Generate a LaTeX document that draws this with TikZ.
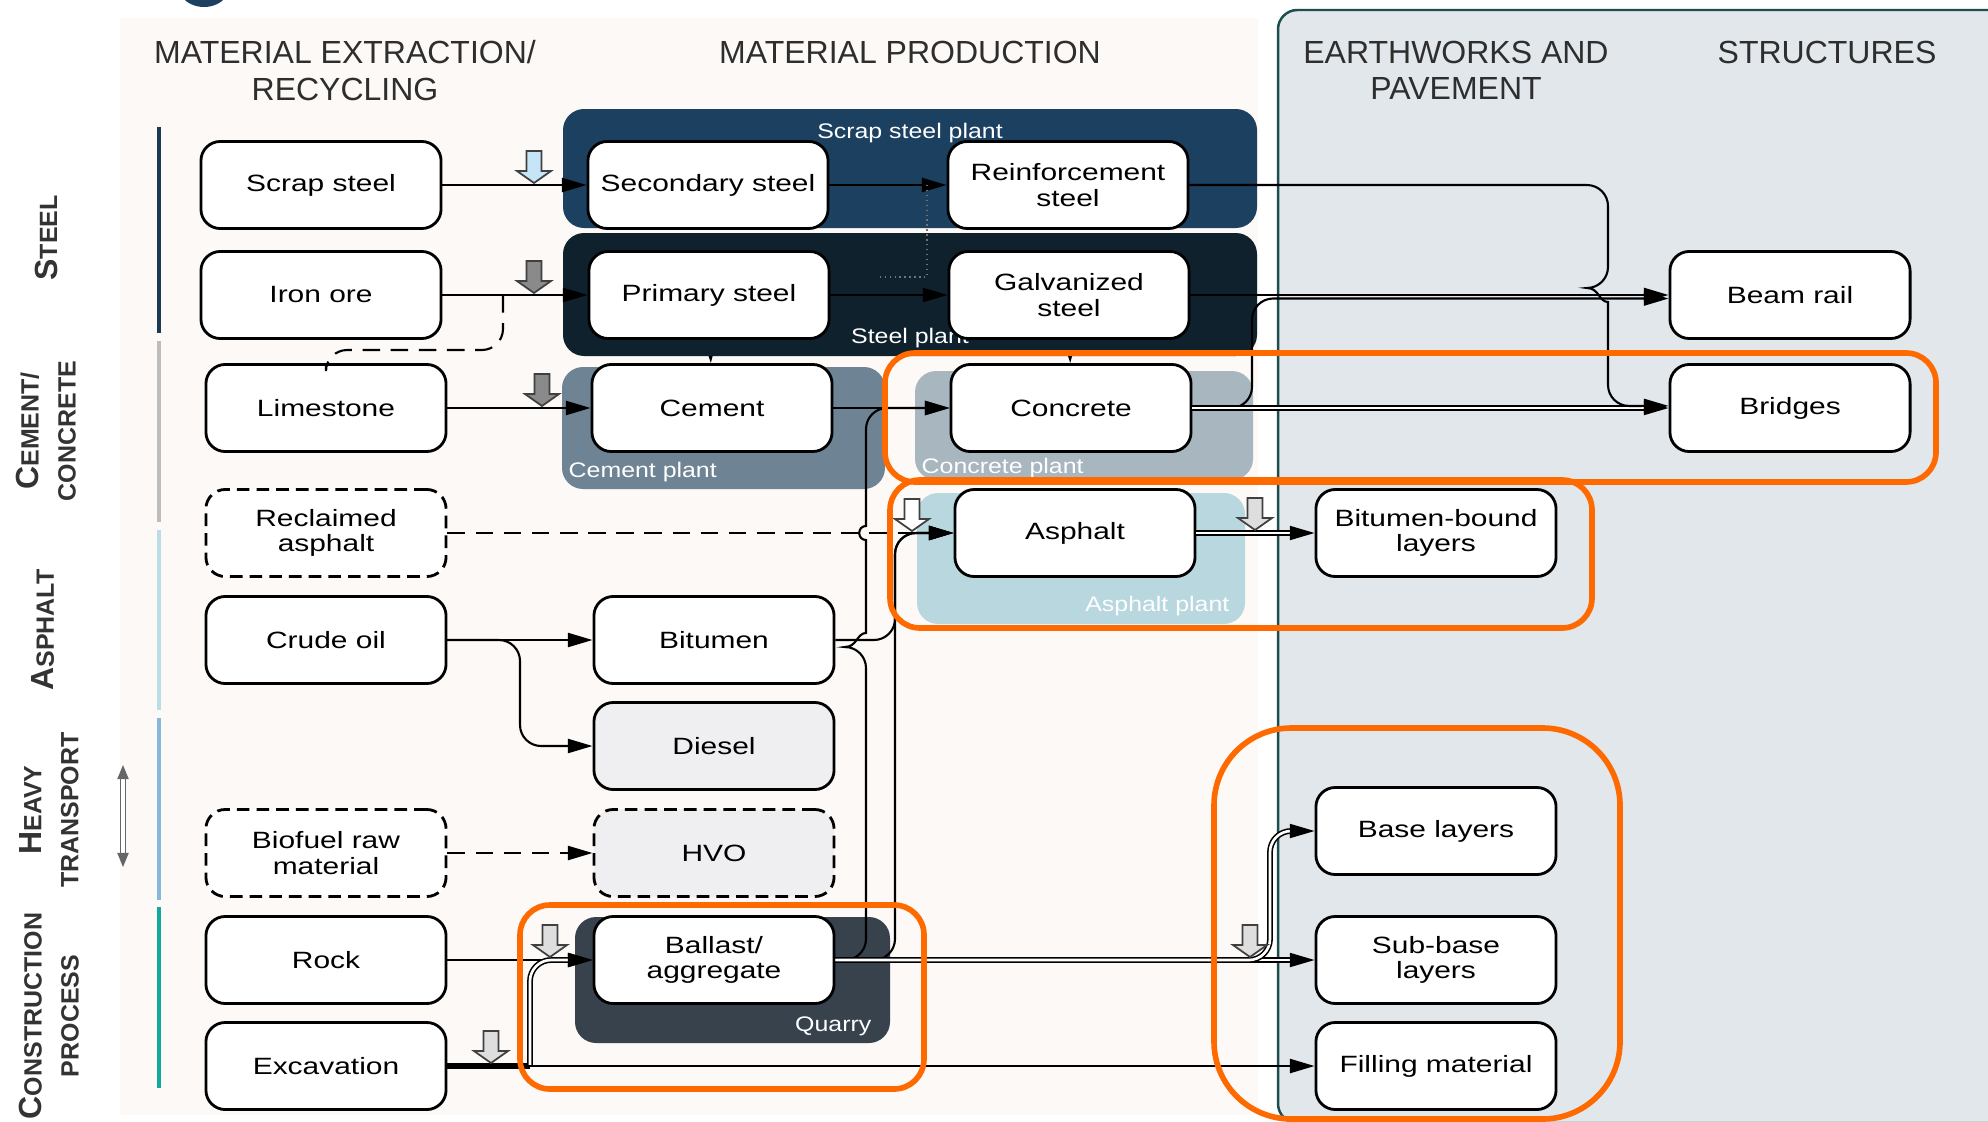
\documentclass[tikz,border=0pt]{standalone}
\usepackage{fontspec}
\setmainfont{Liberation Sans}
\newfontfamily\boxfont[FakeStretch=1.27]{Liberation Sans}
\newfontfamily\plantfont[FakeStretch=1.18]{Liberation Sans}
\usetikzlibrary{arrows.meta,calc,backgrounds}

\definecolor{beige}{HTML}{FCF9F6}
\definecolor{panelR}{HTML}{E1E7EA}
\definecolor{panelLine}{HTML}{1D4D4D}
\definecolor{scrapPl}{HTML}{1B4060}
\definecolor{steelPl}{HTML}{0F212D}
\definecolor{cementPl}{HTML}{6E8494}
\definecolor{concPl}{HTML}{A8B6C0}
\definecolor{asphPl}{HTML}{B9D7DF}
\definecolor{quarryPl}{HTML}{37424C}
\definecolor{fuelFill}{HTML}{EFEEF0}
\definecolor{hiOrange}{HTML}{FF6A00}
\definecolor{steelBar}{HTML}{1A3A52}
\definecolor{cemBar}{HTML}{BDBDBD}
\definecolor{asphBar}{HTML}{BCDDE5}
\definecolor{transBar}{HTML}{86B8DE}
\definecolor{consBar}{HTML}{14A89B}
\definecolor{inBlue}{HTML}{C6E6F7}
\definecolor{inGray}{HTML}{8A8A8A}
\definecolor{inLight}{HTML}{DEDEDE}

% larger first letter of the lane titles
\newcommand{\lanecap}[1]{{\fontsize{9.1pt}{10.5pt}\selectfont #1}}
% hollow input arrow, tip at #1
\newcommand{\dnarrow}[2]{%
  \filldraw[fill=#2, draw=black!75, line width=0.5pt] #1 ++(-7.5,-32) -- ++(15,0)
    -- ++(0,20) -- ++(9.5,0) -- ++(-17,12) -- ++(-17,-12) -- ++(9.5,0) -- cycle;}

\begin{document}
\begin{tikzpicture}[x=0.01cm, y=-0.01cm,
    font=\boxfont\fontsize{6.7pt}{7.2pt}\selectfont,
    >={Triangle[length=7pt, width=4pt]},
    blk/.style={draw, line width=0.8pt, rounded corners=5.5pt, fill=white, align=center,
                minimum width=2.4cm, minimum height=0.87cm, inner sep=1pt},
    opt/.style={blk, dash pattern=on 3.6pt off 2pt},
    fuel/.style={blk, fill=fuelFill},
    sig/.style={->, line width=0.6pt},
    dbl/.style={->, line width=0.45pt, double, double distance=0.75pt},
    brk/.style={line width=0.6pt, dash pattern=on 5pt off 3pt},
    plant/.style={rounded corners=6pt},
    plantlab/.style={font=\plantfont\fontsize{6pt}{7pt}\selectfont, text=white, inner sep=0pt},
    head/.style={font=\normalfont\fontsize{9.1pt}{10.5pt}\selectfont, text=black!82,
                 align=center, inner sep=0pt},
    lane/.style={font=\normalfont\bfseries\fontsize{7.1pt}{10.5pt}\selectfont, text=black!80,
                 align=center, rotate=90, inner sep=0pt},
    lanebar/.style={line width=1.4pt},
    hilite/.style={draw=hiOrange, line width=1.6pt, rounded corners=8.5pt},
  ]
  \useasboundingbox (0,0) rectangle (1988,1121);

  % ============ Column headings and lanes ============
  \node[head, anchor=north] (hExtr) at (345,40) {MATERIAL EXTRACTION/\\RECYCLING};
  \node[head, anchor=north] (hProd) at (910,40) {MATERIAL PRODUCTION};
  \node[head, anchor=north] (hEarth) at (1456,40) {EARTHWORKS AND\\PAVEMENT};
  \node[head, anchor=north] (hStruct) at (1827,40) {STRUCTURES};

  \node[lane] (lSteel) at (46,238) {\lanecap{S}TEEL};
  \node[lane] (lCem) at (46,431) {\lanecap{C}EMENT/\\CONCRETE};
  \node[lane] (lAsph) at (43,630) {\lanecap{A}SPHALT};
  \node[lane] (lTrans) at (49,810) {\lanecap{H}EAVY\\TRANSPORT};
  \node[lane] (lCons) at (49,1016) {\lanecap{C}ONSTRUCTION\\PROCESS};

  \draw[lanebar, steelBar] (159,127) -- (159,333);
  \draw[lanebar, cemBar] (159,341) -- (159,522);
  \draw[lanebar, asphBar] (159,530) -- (159,710);
  \draw[lanebar, transBar] (159,718) -- (159,900);
  \draw[lanebar, consBar] (159,907) -- (159,1088);
  \draw[black!60, line width=0.35pt, double, double distance=0.9pt,
        {Triangle[length=4pt, width=3.2pt]}-{Triangle[length=4pt, width=3.2pt]}] (123,765) -- (123,867);

  % ============ Raw materials ============
  \node[blk] (scrap) at (321,185) {Scrap steel};
  \node[blk] (iron)  at (321,295) {Iron ore};
  \node[blk] (lime)  at (326,408) {Limestone};
  \node[opt] (recl)  at (326,533) {Reclaimed\\asphalt};
  \node[blk] (crude) at (326,640) {Crude oil};
  \node[opt] (bio)   at (326,853) {Biofuel raw\\material};
  \node[blk] (rock)  at (326,960) {Rock};
  \node[blk] (excav) at (326,1066) {Excavation};

  % ============ Products ============
  \node[blk] (sec)    at (708,185) {Secondary steel};
  \node[blk] (prim)   at (709,295) {Primary steel};
  \node[blk] (cem)    at (712,408) {Cement};
  \node[blk] (bitu)   at (714,640) {Bitumen};
  \node[fuel] (diesel) at (714,746) {Diesel};
  \node[fuel, dash pattern=on 3.6pt off 2pt] (hvo) at (714,853) {HVO};
  \node[blk] (ball)   at (714,960) {Ballast/\\aggregate};

  \node[blk] (reinf) at (1068,185) {Reinforcement\\steel};
  \node[blk] (galv)  at (1069,295) {Galvanized\\steel};
  \node[blk] (conc)  at (1071,408) {Concrete};
  \node[blk] (asph)  at (1075,533) {Asphalt};

  % ============ Earthworks, pavement, structures ============
  \node[blk] (bbl)     at (1436,533) {Bitumen-bound\\layers};
  \node[blk] (base)    at (1436,831) {Base layers};
  \node[blk] (sub)     at (1436,960) {Sub-base\\layers};
  \node[blk] (filling) at (1436,1066) {Filling material};
  \node[blk] (beam)    at (1790,295) {Beam rail};
  \node[blk] (bridge)  at (1790,408) {Bridges};

  % ============ Panels and plants (behind) ============
  \begin{scope}[on background layer]
    \fill[beige] (120,18) rectangle (1258,1115);
    \draw[fill=panelR, draw=panelLine, line width=0.7pt, rounded corners=5.5pt]
      (1278,10) rectangle (2020,1123);
    \fill[scrapPl] (204,-23) circle[radius=0.3cm];
    % these two only show in the gaps between the plants
    \draw[sig] (prim) -- (cem);
    \draw[sig] (galv) -- (conc);
    \fill[scrapPl, plant]  (563,109) rectangle (1257,228);
    \fill[steelPl, plant]  (563,233) rectangle (1257,356);
    \fill[cementPl, plant] (562,367) rectangle (885,489);
    \fill[concPl, plant]   (915,371) rectangle (1253,480);
    \fill[asphPl, plant]   (917,493) rectangle (1245,624);
    \fill[quarryPl, plant] (575,917) rectangle (890,1043);
    \node[plantlab, anchor=base] (pScrap) at (910,138) {Scrap steel plant};
    \node[plantlab, anchor=base] (pSteel) at (910,343) {Steel plant};
    \node[plantlab, anchor=base west] (pCem) at (568,477) {Cement plant};
    \node[plantlab, anchor=base west] (pConc) at (921,473) {Concrete plant};
    \node[plantlab, anchor=base east] (pAsph) at (1230,611) {Asphalt plant};
    \node[plantlab, anchor=base east] (pQuarry) at (872,1031) {Quarry};
  \end{scope}

  % ============ Steel and cement flows ============
  \draw[sig] (scrap) -- (sec);
  \draw[sig] (iron) -- (prim);
  \coordinate (ironjn) at (503,295);
  \draw[brk, rounded corners=6pt] (ironjn) -- (503,350) -| (lime.north);
  \draw[sig] (lime) -- (cem);
  \draw[sig] (sec) -- (reinf);
  \draw[sig] (prim) -- (galv);
  \coordinate (dotA) at (927,185);
  \coordinate (dotB) at (880,277);
  \draw[densely dotted, black!55, line width=0.4pt] (dotA) |- (dotB);
  \draw[sig] (cem) -- (conc);
  \draw[sig] (galv) -- (beam);
  \draw[sig, rounded corners=6pt] (conc.east) -- (1252,408) |- ([yshift=-1pt]beam.west);
  \draw[dbl] (conc) -- (bridge);
  \draw[sig, rounded corners=6pt] (reinf.east) -- (1608,185) -- (1608,288) [sharp corners]
        .. controls (1599,288) and (1599,302) .. (1608,302) [rounded corners=6pt]
        -- (1608,406) -- ([yshift=0.6pt]bridge.west);

  % ============ Asphalt and fuels ============
  \draw[brk, ->] (recl) -- (asph);
  \draw[sig] (crude) -- (bitu);
  \draw[sig, rounded corners=6pt] (crude.east) -- (520,640) |- (diesel.west);
  \draw[brk, ->] (bio) -- (hvo);
  \draw[sig, rounded corners=6pt] (bitu.east) -- (895,640) -- (895,533) -- (asph.west);
  \draw[dbl] (asph) -- (bbl);

  % ============ Aggregates ============
  \draw[sig] (rock) -- (ball);
  \coordinate (excjn) at (530,1066);
  \draw[line width=1.6pt] (excav.east) -- (excjn);
  \draw[dbl, rounded corners=6pt] (excjn) -- (530,960) -- (ball.west);
  \draw[sig] (excav) -- (filling);
  \draw[sig, rounded corners=6pt] (ball.east) -- (866,960) -- (866,647) [sharp corners]
        .. controls (857,647) and (857,633) .. (866,633) -- (866,540)
        .. controls (857,540) and (857,526) .. (866,526) [rounded corners=6pt]
        -- (866,408) -- (conc.west);
  \draw[sig, rounded corners=6pt] (ball.east) -- (895,960) -- (895,533) -- (asph.west);
  \draw[dbl] (ball) -- (sub);
  \draw[dbl, rounded corners=6pt] (ball.east) -- (1270,960) -- (1270,831) -- (base.west);

  % ============ Input markers ============
  \dnarrow{(534,183)}{inBlue}
  \dnarrow{(534,293)}{inGray}
  \dnarrow{(542,406)}{inGray}
  \dnarrow{(912,531)}{white}
  \dnarrow{(1255,530)}{inLight}
  \dnarrow{(550,957)}{inLight}
  \dnarrow{(491,1063)}{inLight}
  \dnarrow{(1250,957)}{inLight}

  % ============ Highlights ============
  \draw[hilite] (885,353) rectangle (1936,482);
  \draw[hilite] (890,480) rectangle (1592,628);
  \draw[hilite] (520,905) rectangle (924,1089);
  \draw[hilite, rounded corners=22pt] (1214,728) rectangle (1620,1119);
\end{tikzpicture}
\end{document}
